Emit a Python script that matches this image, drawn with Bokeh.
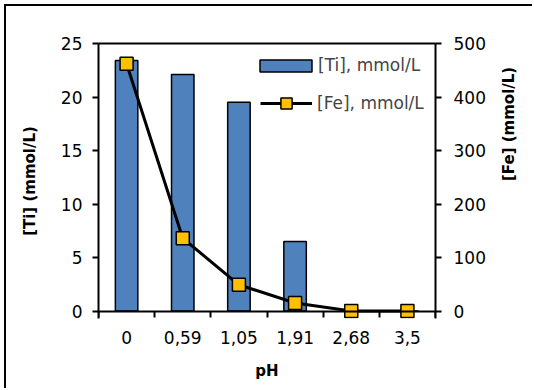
import math
from bokeh.plotting import figure
from bokeh.models import Range1d, LinearAxis, FixedTicker, Legend, LegendItem, ColumnDataSource
from bokeh.embed import file_html
from bokeh.resources import INLINE

ph_labels = ["0", "0,59", "1,05", "1,91", "2,68", "3,5"]
ti_values = [23.4, 22.1, 19.5, 6.5, 0, 0]
fe_values = [462, 136, 49, 15, 0, 0]
ti_ticks = [0, 5, 10, 15, 20, 25]
fe_ticks = [0, 100, 200, 300, 400, 500]

FONT = "DejaVu Sans"
pos = [i + 0.5 for i in range(len(ph_labels))]
src = ColumnDataSource(dict(x=pos, ti=ti_values, fe=fe_values))

# small room below zero so markers sitting on 0 are not clipped by the frame
TI_LOW = -0.7
FE_LOW = TI_LOW / 25 * 500

p = figure(width=528, height=384, x_range=Range1d(0, len(ph_labels)), y_range=Range1d(TI_LOW, 25),
           output_backend="svg", toolbar_location=None,
           min_border_left=92, min_border_right=99, min_border_top=37, min_border_bottom=72,
           x_axis_label="pH", y_axis_label="[Ti] (mmol/L)")
p.margin = (4, 0, 0, 4)
p.styles = {"border-top": "2px solid black", "border-left": "2px solid black"}
p.extra_y_ranges = {"fe": Range1d(FE_LOW, 500)}
p.xgrid.visible = False
p.ygrid.visible = False
p.outline_line_color = None
p.background_fill_color = "white"
p.border_fill_color = "white"

# bottom axis: only labels (category names at centres) and the axis title
xa = p.xaxis[0]
xa.ticker = FixedTicker(ticks=pos, minor_ticks=[])
xa.major_label_overrides = {x: l for x, l in zip(pos, ph_labels)}
xa.axis_line_color = None
xa.major_tick_out = 0
xa.major_tick_in = 0
xa.minor_tick_out = 0
xa.minor_tick_in = 0
xa.major_label_standoff = 12
xa.axis_label_standoff = 15

# axis line drawn at zero with ticks at the category boundaries
xz = LinearAxis(fixed_location=0, ticker=FixedTicker(ticks=[], minor_ticks=list(range(len(ph_labels) + 1))),
                major_label_text_font_size="0px", major_tick_out=0, major_tick_in=0,
                minor_tick_out=6, minor_tick_in=0, major_label_standoff=0)
p.add_layout(xz, "below")

# top frame line
ta = LinearAxis(ticker=FixedTicker(ticks=[]), major_label_text_font_size="0px",
                major_tick_out=0, minor_tick_out=0)
p.add_layout(ta, "above")

ya = p.yaxis[0]
ya.ticker = FixedTicker(ticks=ti_ticks)
ya.major_tick_out = 6
ya.major_tick_in = 0
ya.minor_tick_out = 0
ya.minor_tick_in = 0
ya.major_label_standoff = 10
ya.axis_label_standoff = 19

ra = LinearAxis(y_range_name="fe", axis_label="[Fe] (mmol/L)", ticker=FixedTicker(ticks=fe_ticks))
ra.major_tick_out = 6
ra.major_tick_in = 0
ra.minor_tick_out = 0
ra.minor_tick_in = 0
ra.major_label_standoff = 12
ra.axis_label_standoff = 20
ra.axis_label_orientation = math.pi / 2
p.add_layout(ra, "right")

for ax in [xz, ya, ra, ta]:
    ax.axis_line_width = 2
    ax.axis_line_color = "black"
    ax.major_tick_line_width = 2
    ax.minor_tick_line_width = 2
for ax in [xa, ya, ra]:
    ax.major_label_text_font = FONT
    ax.major_label_text_color = "black"
    ax.major_label_text_font_size = "17px"
    ax.axis_label_text_font = FONT
    ax.axis_label_text_font_size = "15px"
    ax.axis_label_text_font_style = "bold"
    ax.axis_label_text_color = "black"

bars = p.vbar(x="x", top="ti", bottom=0, width=0.4, source=src, fill_color="#4F81BD",
              line_color="black", line_width=1.5)
line = p.line(x="x", y="fe", source=src, y_range_name="fe", line_color="black", line_width=3)
sq = p.scatter(x="x", y="fe", source=src, y_range_name="fe", marker="square", size=13,
               fill_color="#FFC000", line_color="black", line_width=1.5)

leg_ti = Legend(items=[LegendItem(label="[Ti], mmol/L", renderers=[bars])],
                location=(155, 243), glyph_width=65, glyph_height=15, label_standoff=0,
                padding=0, margin=0, border_line_color=None, background_fill_alpha=0,
                label_text_font=FONT, label_text_font_size="17px")
leg_fe = Legend(items=[LegendItem(label="[Fe], mmol/L", renderers=[line, sq])],
                location=(162, 201), glyph_width=52, glyph_height=28, label_standoff=5,
                padding=0, margin=0, border_line_color=None, background_fill_alpha=0,
                label_text_font=FONT, label_text_font_size="17px")
p.add_layout(leg_ti, "center")
p.add_layout(leg_fe, "center")

open("out.html", "w").write(file_html(p, INLINE))
